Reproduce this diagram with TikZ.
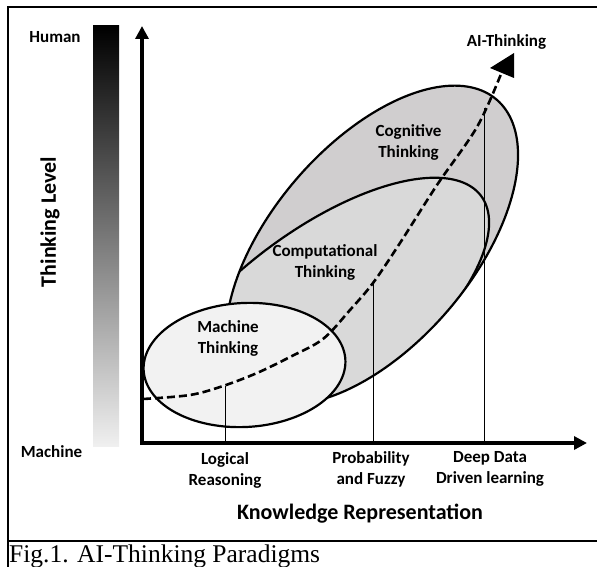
\documentclass[tikz,border=0pt]{standalone}
\usepackage{fontspec}
\setmainfont{Carlito}
\newfontfamily\capfont{Liberation Serif}
\usetikzlibrary{arrows.meta}
\definecolor{cogfill}{HTML}{D0CECF}
\definecolor{compfill}{HTML}{D9D9D9}
\definecolor{machfill}{HTML}{F2F2F2}
\tikzset{
  lbl/.style={font=\fontsize{17}{21}\selectfont\bfseries, align=center, inner sep=0pt},
  bigl/.style={font=\fontsize{22}{26}\selectfont\bfseries, inner sep=0pt},
  outline/.style={line width=2.2pt},
  tickline/.style={line width=0.9pt},
  axisline/.style={line width=3.5pt},
  frameline/.style={line width=2.2pt},
  dashcurve/.style={line width=2.6pt, dash pattern=on 8pt off 4pt},
}
% tilted ellipse: centre x, centre y, semi-major, semi-minor, tilt (deg, right side up)
\newcommand\tiltell[5]{plot[domain=0:360, samples=181, variable=\t]
  ({#1+#3*cos(\t)*cos(#5)+#4*sin(\t)*sin(#5)},{#2-#3*cos(\t)*sin(#5)+#4*sin(\t)*cos(#5)}) -- cycle}
\begin{document}
\begin{tikzpicture}[x=1pt,y=-1pt]
\useasboundingbox (0,0) rectangle (597,567);
% frame
\draw[frameline] (597,7) -- (8,7) -- (8,567);
\draw[frameline] (8,541) -- (597,541);
% gradient bar
\shade[top color=black, bottom color=gray!12] (93,26) rectangle (119,446);
% cognitive and computational regions
\fill[cogfill] \tiltell{372}{245}{191.5}{100.3}{49.4};
\begin{scope}
  \clip \tiltell{372}{245}{191.5}{100.3}{49.4};
  \filldraw[fill=compfill, outline] \tiltell{317.6}{319.6}{205}{86.7}{37.2};
\end{scope}
\draw[outline] \tiltell{372}{245}{191.5}{100.3}{49.4};
% machine ellipse
\filldraw[fill=machfill, outline] \tiltell{244.5}{365}{101}{62}{3};
% tick lines
\coordinate (t1) at (225,386);
\coordinate (t2) at (373,283);
\coordinate (t3) at (484,108);
\coordinate (b1) at (225,443);
\coordinate (b2) at (373,443);
\coordinate (b3) at (484,443);
\draw[tickline] (b1) -- (t1);
\draw[tickline] (b2) -- (t2);
\draw[tickline] (b3) -- (t3);
% dashed AI-thinking curve
\draw[dashcurve] plot[smooth, tension=0.55] coordinates {
 (143,399) (190,395) (223,386) (257,373) (290,357) (323,339) (350,310)
 (373,283) (400,243) (437,185) (477,127) (501,74)};
\coordinate (tip) at (514,53);
\fill (tip) -- (490,68) -- (514,78) -- cycle;
% axes
\coordinate (ytop) at (142,26);
\coordinate (orig) at (142,443);
\coordinate (xend) at (587,443);
\draw[axisline, {Triangle[length=13pt,width=13pt]}-{Triangle[length=13pt,width=13pt]}] (ytop) -- (orig) -- (xend);
% labels
\node[lbl] (human) at (55,37) {Human};
\node[lbl] (machine) at (51.5,452) {Machine};
\node[bigl, rotate=90] (tlevel) at (50,222) {Thinking Level};
\node[lbl] (ai) at (506.5,42) {AI-Thinking};
\node[lbl] (cog) at (408.5,142) {Cognitive\\Thinking};
\node[lbl] (comp) at (325,262.5) {Computational\\Thinking};
\node[lbl] (mach) at (228,338) {Machine\\Thinking};
\node[lbl] (logic) at (225,470) {Logical\\Reasoning};
\node[lbl] (prob) at (371,469) {Probability\\and Fuzzy};
\node[lbl] (deep) at (490,469) {Deep Data\\Driven learning};
\node[bigl] (kr) at (360,514) {Knowledge Representation};
\node[anchor=base west, inner sep=0pt, font=\capfont\fontsize{25.5}{30}\selectfont] (cap) at (9,562) {Fig.1. AI-Thinking Paradigms};
\end{tikzpicture}
\end{document}
